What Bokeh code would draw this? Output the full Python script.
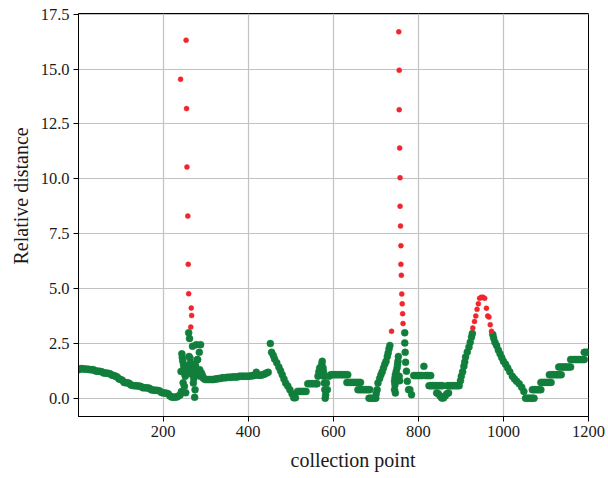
from bokeh.plotting import figure
from bokeh.models import Range1d, FixedTicker, PrintfTickFormatter, ColumnDataSource, Title
from bokeh.embed import file_html
from bokeh.resources import INLINE

# ---------------- data ----------------
x_ticks = [200, 400, 600, 800, 1000, 1200]
y_ticks = [0.0, 2.5, 5.0, 7.5, 10.0, 12.5, 15.0, 17.5]
x_title = "collection point"
y_title = "Relative distance"

# green points: relative distance at or below the threshold
green_x = [
    1, 4, 8, 12, 16, 20, 24, 28, 32, 36,
    40, 44, 48, 52, 56, 60, 64, 68, 72, 76,
    80, 84, 88, 92, 96, 100, 104, 108, 112, 116, 120,
    124, 128, 132, 136, 140, 144, 148, 152, 156, 160, 164, 168,
    172, 176, 180, 184, 188, 192, 196, 200, 204, 208, 212,
    216, 220, 224, 228, 232, 236, 240,
    242, 243, 244, 245, 246, 247, 248, 249, 250, 251, 252, 253, 254, 256, 258,
    260, 261, 262, 263, 264, 265, 266, 268, 269, 270, 271, 272, 273, 274, 275,
    276, 277, 278, 279, 280, 281, 283, 285, 286, 287, 288, 290, 292, 294,
    295, 299, 303, 307, 311, 315, 319, 323, 327, 331, 335, 339, 343, 347, 351,
    355, 359, 363, 367, 371, 375, 379, 383, 387, 391, 395, 399, 403, 407, 411,
    415, 419, 423, 427, 431, 435, 439, 443, 447,
    452, 455, 459, 462, 467, 472, 476, 480, 484, 488, 493, 498,
    503, 507, 511, 516, 520, 524, 528, 532, 536, 540, 544, 548, 552, 556, 560,
    562, 564, 566, 568, 571, 573, 574, 576, 577, 578, 579, 580, 581, 582, 584, 586,
    590, 594, 598, 602, 606, 610, 614, 618, 622, 626, 630, 634,
    632, 636, 640, 644, 648, 652, 656, 660, 664,
    658, 662, 666, 670, 674, 678, 682, 686,
    684, 688, 692, 696, 700,
    701, 703, 705, 709, 712, 715, 718, 721, 724, 727, 729, 731, 733,
    744, 745, 744, 745, 746, 748, 750, 751, 752, 753, 755, 756, 746,
    768, 768, 769, 770, 772, 774, 777, 780, 784,
    789, 793, 797, 801, 805, 809, 813, 817, 821, 825, 829,
    825, 829, 833, 837, 841, 845, 849, 853, 857,
    843, 847, 851, 855, 859, 863, 867, 871,
    868, 872, 876, 880, 884, 888, 892, 896,
    899, 901, 904, 907, 909, 911, 915, 919, 922, 925, 927,
    975, 977, 980, 984, 988, 992, 996, 1000, 1005, 1010, 1015, 1021, 1026,
    1031, 1037, 1043, 1048,
    1052, 1056, 1060, 1064, 1068, 1072,
    1068, 1072, 1076, 1080, 1084, 1088,
    1088, 1092, 1096, 1100, 1104, 1108, 1112,
    1108, 1112, 1116, 1120, 1124, 1128, 1132, 1136,
    1130, 1134, 1138, 1142, 1146, 1150, 1154, 1158,
    1158, 1162, 1166, 1170, 1174, 1178, 1182, 1186, 1190,
    1190, 1194, 1198,
]
green_y = [
    1.30, 1.33, 1.35, 1.33, 1.33, 1.32, 1.32, 1.30, 1.30, 1.30,
    1.25, 1.23, 1.23, 1.22, 1.20, 1.15, 1.15, 1.14, 1.13, 1.10,
    1.05, 1.03, 1.00, 0.97, 0.88, 0.85, 0.82, 0.72, 0.70, 0.70, 0.68,
    0.60, 0.58, 0.57, 0.57, 0.56, 0.55, 0.53, 0.48, 0.47, 0.47, 0.46, 0.45,
    0.38, 0.37, 0.36, 0.36, 0.35, 0.33, 0.26, 0.24, 0.24, 0.22, 0.20,
    0.10, 0.05, 0.04, 0.05, 0.05, 0.10, 0.15,
    1.22, 0.30, 2.02, 1.85, 1.70, 0.70, 1.53, 1.40, 0.54, 1.10, 1.00, 0.25, 1.30, 1.20, 1.50,
    2.98, 1.90, 2.72, 1.83, 1.30, 1.60, 1.10, 1.40, 2.37, 1.20, 0.69, 0.90, 1.00, 0.04, 0.39,
    1.50, 1.30, 2.44, 1.15, 1.75, 1.76, 1.20, 2.09, 1.30, 1.00, 2.44, 1.15, 1.05, 0.95,
    0.90, 0.85, 0.85, 0.85, 0.85, 0.85, 0.85, 0.88, 0.88, 0.90, 0.90, 0.93, 0.93, 0.93, 0.95,
    0.95, 0.95, 0.97, 0.97, 0.97, 0.97, 1.00, 1.00, 1.00, 1.00, 1.00, 1.00, 1.00, 1.02, 1.02,
    1.05, 1.18, 1.05, 1.05, 1.05, 1.08, 1.10, 1.15, 1.18,
    2.49, 2.09, 1.95, 1.79, 1.62, 1.42, 1.25, 1.07, 0.88, 0.69, 0.55, 0.39,
    0.20, 0.02, 0.02, 0.31, 0.31, 0.31, 0.31, 0.31, 0.31, 0.66, 0.66, 0.66, 0.66, 0.66, 0.66,
    0.66, 1.00, 1.20, 1.38, 1.38, 1.55, 1.68, 1.38, 1.20, 1.00, 0.69, 0.39, 0.00, 0.15, 0.69, 0.39,
    1.00, 1.07, 1.07, 1.07, 1.07, 1.07, 1.07, 1.07, 1.07, 1.07, 1.07, 1.07,
    0.72, 0.72, 0.72, 0.72, 0.72, 0.72, 0.72, 0.72, 0.72,
    0.39, 0.39, 0.39, 0.39, 0.39, 0.39, 0.39, 0.39,
    0.00, 0.00, 0.00, 0.00, 0.00,
    0.20, 0.39, 0.69, 0.90, 1.07, 1.20, 1.38, 1.55, 1.68, 1.90, 2.06, 2.25, 2.40,
    0.77, 0.61, 0.39, 0.92, 1.07, 1.22, 1.38, 1.53, 1.68, 1.90, 1.00, 0.80, 0.24,
    2.98, 2.52, 2.09, 1.64, 1.23, 0.77, 0.39, 0.39, 0.16,
    1.03, 1.03, 1.03, 1.03, 1.03, 1.03, 1.45, 1.03, 1.03, 1.03, 1.03,
    0.57, 0.57, 0.57, 0.57, 0.57, 0.57, 0.57, 0.57, 0.57,
    0.24, 0.20, 0.10, 0.01, 0.01, 0.10, 0.20, 0.24,
    0.57, 0.57, 0.57, 0.57, 0.57, 0.57, 0.57, 0.57,
    0.80, 1.00, 1.20, 1.45, 1.65, 1.88, 2.10, 2.33, 2.55, 2.79, 2.95,
    2.90, 2.74, 2.55, 2.40, 2.20, 2.03, 1.85, 1.68, 1.55, 1.38, 1.20, 1.00, 0.88,
    0.77, 0.66, 0.50, 0.31,
    0.00, 0.00, 0.00, 0.00, 0.00, 0.00,
    0.39, 0.39, 0.39, 0.39, 0.39, 0.39,
    0.72, 0.72, 0.72, 0.72, 0.72, 0.72, 0.72,
    1.07, 1.07, 1.07, 1.07, 1.07, 1.07, 1.07, 1.07,
    1.42, 1.42, 1.42, 1.42, 1.42, 1.42, 1.42, 1.42,
    1.76, 1.76, 1.76, 1.76, 1.76, 1.76, 1.76, 1.76, 1.76,
    2.09, 2.09, 2.09,
]

# red points: relative distance above the threshold
red_x = [
    241, 254, 255, 256, 258, 259, 260, 265, 266, 267,
    737, 754, 755, 755, 756, 757, 757, 758, 759, 759, 760, 761, 762, 763, 764,
    928, 932, 935, 938, 941, 944, 948, 952, 956, 960, 963, 966, 969, 972,
]
red_y = [
    14.54, 16.32, 13.20, 10.54, 8.30, 6.10, 4.76, 3.24, 4.11, 3.77,
    3.05, 16.70, 14.95, 13.15, 11.40, 10.05, 8.75, 7.85, 6.95, 6.10, 5.60, 4.75, 4.30, 3.85, 3.40,
    3.20, 3.50, 3.75, 4.05, 4.30, 4.55, 4.60, 4.60, 4.55, 4.10, 3.75, 3.70, 3.35, 3.05,
]

# ---------------- figure ----------------
FONT = "Liberation Serif"
GREEN = "#127e3c"
RED = "#f0262d"

p = figure(
    width=608, height=478,
    output_backend="svg", toolbar_location=None,
    x_range=Range1d(1, 1200), y_range=Range1d(-0.835, 17.535),
    min_border_left=78, min_border_right=20,
    min_border_top=13, min_border_bottom=61,
    background_fill_color="white", border_fill_color="white",
)

green_src = ColumnDataSource(dict(x=green_x, y=green_y))
red_src = ColumnDataSource(dict(x=red_x, y=red_y))

p.scatter("x", "y", source=green_src, marker="circle", size=7,
          fill_color=GREEN, line_color=GREEN, line_width=0.5)
p.scatter("x", "y", source=red_src, marker="circle", size=5,
          fill_color=RED, line_color=RED, line_width=0.5)

p.xaxis.ticker = FixedTicker(ticks=x_ticks)
p.yaxis.ticker = FixedTicker(ticks=y_ticks)
p.yaxis.formatter = PrintfTickFormatter(format="%.1f")

for ax in (p.xaxis, p.yaxis):
    ax.major_tick_in = 0
    ax.major_tick_out = 5
    ax.minor_tick_in = 0
    ax.minor_tick_out = 0
    ax.axis_line_color = "black"
    ax.axis_line_width = 1
    ax.major_tick_line_color = "black"
    ax.major_label_text_font = FONT
    ax.major_label_text_font_size = "16.5px"
    ax.major_label_text_color = "#1a1a1a"
    ax.major_label_standoff = 4

# axis titles as side-panel titles (the reference has them off-centre)
p.add_layout(Title(text=x_title, align="left", offset=212, standoff=15,
                   text_font=FONT, text_font_size="20px", text_font_style="normal",
                   text_color="#1a1a1a"), "below")
p.add_layout(Title(text=y_title, align="left", offset=152, standoff=12,
                   text_font=FONT, text_font_size="20px", text_font_style="normal",
                   text_color="#1a1a1a"), "left")

p.grid.grid_line_color = "#c2c2c2"
p.grid.grid_line_width = 1.2
p.outline_line_color = "black"
p.outline_line_width = 1
p.outline_line_alpha = 1

open("out.html", "w").write(file_html(p, INLINE))
